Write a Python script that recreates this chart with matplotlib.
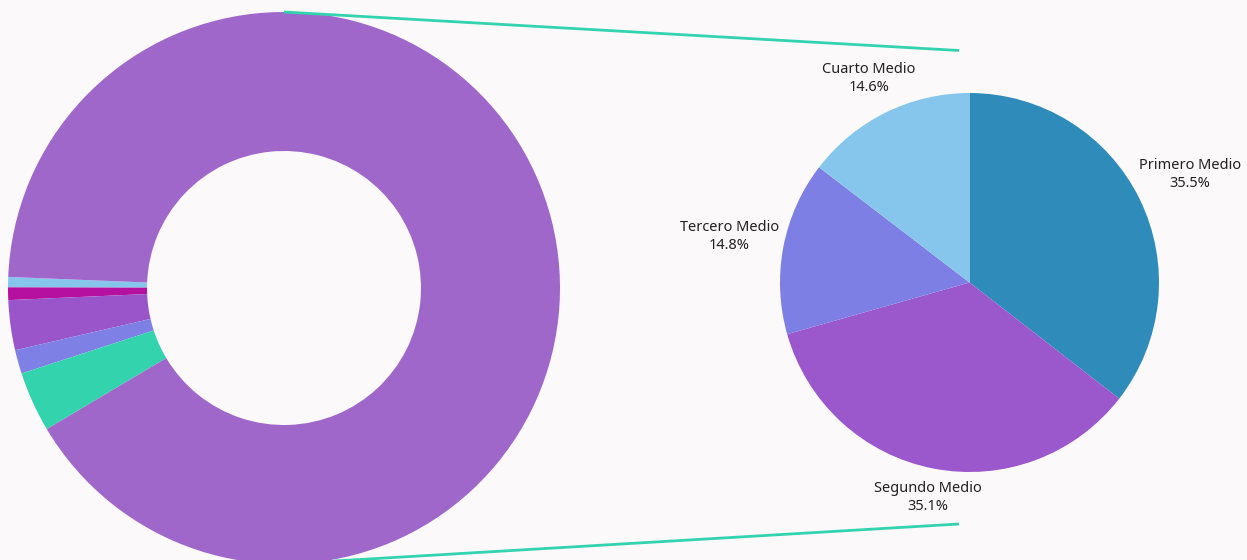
import matplotlib.pyplot as plt
import numpy as np

# Datos
donut_vals = [0.6, 0.74, 2.92, 1.39, 3.53, 90.82]
donut_colors = ["#87c6ec", "#b5109f", "#9955c9", "#7f80e6", "#33d3ae", "#a067cb"]

niveles = ["Primero Medio", "Segundo Medio", "Tercero Medio", "Cuarto Medio"]
pct_niveles = [35.5, 35.1, 14.8, 14.6]
pie_colors = ["#2e8bba", "#9b57cc", "#7d7fe4", "#87c6ec"]

# Layout (coordenadas en pixeles, y hacia arriba)
W, H = 1247, 560
bg = "#fbf9fa"
line_color = "#33d3ae"
c1, r1, w1 = (284, 272), 276, 139
c2, r2 = (969.5, 277.5), 189.5

fig = plt.figure(figsize=(W / 100, H / 100), dpi=100, facecolor=bg)
ax = fig.add_axes([0, 0, 1, 1])
ax.set_facecolor(bg)
ax.set_xlim(0, W)
ax.set_ylim(0, H)
ax.set_aspect("equal")
ax.axis("off")

# Dona de la izquierda
ax.pie(donut_vals,
       colors=donut_colors,
       startangle=177.7,
       counterclock=True,
       center=c1,
       radius=r1,
       wedgeprops=dict(width=w1, linewidth=0),
       frame=True)

# Torta de la derecha
wedges, _ = ax.pie(pct_niveles,
                   colors=pie_colors,
                   startangle=90,
                   counterclock=False,
                   center=c2,
                   radius=r2,
                   wedgeprops=dict(linewidth=0),
                   frame=True)
ax.set_xlim(0, W)
ax.set_ylim(0, H)

# Etiquetas: centro del texto fuera del borde segun su tamaño
gap = 3
renderer = fig.canvas.get_renderer()
for w, nombre, p in zip(wedges, niveles, pct_niveles):
    ang = np.deg2rad((w.theta1 + w.theta2) / 2)
    ca, sa = np.cos(ang), np.sin(ang)
    t = ax.text(0, 0, f"{nombre}\n{p}%",
                ha="center", va="center", multialignment="center",
                fontsize=10.5, color="#222222", family="Noto Sans",
                linespacing=1.25)
    bb = t.get_window_extent(renderer)
    half_w, half_h = bb.width / 2, bb.height / 2
    d = r2 + gap + half_w * abs(ca) + half_h * abs(sa)
    t.set_position((c2[0] + d * ca, c2[1] + d * sa))

# Lineas de conexion
x_end = c2[0] - 10.5
ax.plot([c1[0], x_end], [c1[1] + r1, 509.5], color=line_color, lw=2,
        solid_capstyle="butt")
ax.plot([c1[0], x_end], [c1[1] - r1, 36], color=line_color, lw=2,
        solid_capstyle="butt")

fig.savefig("out.png", facecolor=bg)
